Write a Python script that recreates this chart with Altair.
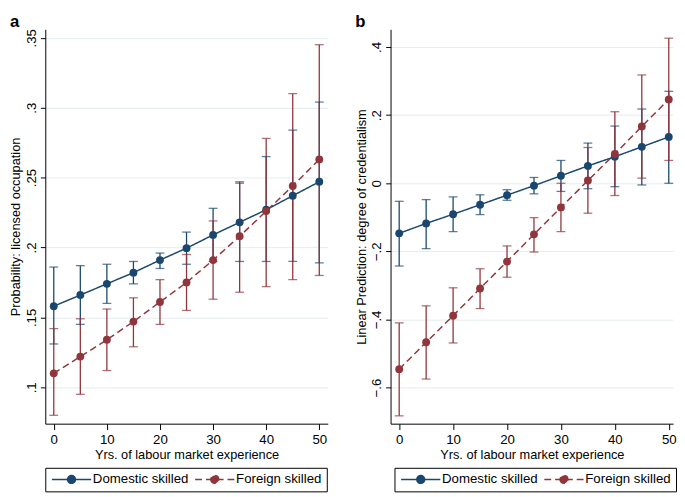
import altair as alt
import pandas as pd

years = [0, 5, 10, 15, 20, 25, 30, 35, 40, 45, 50]
groups = ["Domestic skilled", "Foreign skilled"]
colors = ["#1a476f", "#90353b"]

# Panel a: Probability of licensed occupation
a_dom = [0.158, 0.166, 0.174, 0.182, 0.191, 0.1995, 0.209, 0.218, 0.227, 0.237, 0.247]
a_dom_lo = [0.131, 0.145, 0.160, 0.174, 0.185, 0.188, 0.190, 0.190, 0.190, 0.190, 0.189]
a_dom_hi = [0.186, 0.187, 0.188, 0.190, 0.196, 0.211, 0.228, 0.246, 0.265, 0.284, 0.304]
a_for = [0.110, 0.122, 0.134, 0.147, 0.161, 0.175, 0.191, 0.208, 0.226, 0.244, 0.263]
a_for_lo = [0.080, 0.095, 0.112, 0.129, 0.145, 0.155, 0.163, 0.168, 0.172, 0.177, 0.180]
a_for_hi = [0.142, 0.149, 0.156, 0.164, 0.177, 0.195, 0.219, 0.247, 0.278, 0.310, 0.345]

# Panel b: Linear prediction of degree of credentialism
b_dom = [-0.147, -0.118, -0.091, -0.063, -0.035, -0.007, 0.022, 0.051, 0.078, 0.107, 0.136]
b_dom_lo = [-0.243, -0.192, -0.142, -0.092, -0.050, -0.031, -0.024, -0.016, -0.010, -0.005, 0.000]
b_dom_hi = [-0.053, -0.048, -0.040, -0.034, -0.019, 0.017, 0.067, 0.118, 0.168, 0.218, 0.270]
b_for = [-0.546, -0.467, -0.389, -0.309, -0.230, -0.150, -0.071, 0.008, 0.086, 0.167, 0.246]
b_for_lo = [-0.683, -0.575, -0.469, -0.368, -0.276, -0.202, -0.142, -0.088, -0.036, 0.015, 0.067]
b_for_hi = [-0.410, -0.360, -0.307, -0.251, -0.184, -0.101, 0.000, 0.105, 0.210, 0.318, 0.426]

a_ticks = [0.1, 0.15, 0.2, 0.25, 0.3, 0.35]
b_ticks = [-0.6, -0.4, -0.2, 0, 0.2, 0.4]

FONT = "Liberation Sans"
# legend sample: a line with a dot in its middle (units of 5px)
SYMBOL = "M-1,0L7,0M2.2,0A0.8,0.8,0,1,0,3.8,0A0.8,0.8,0,1,0,2.2,0Z"


def make_df(dom, dom_lo, dom_hi, fr, fr_lo, fr_hi):
    rows = []
    for g, est, lo, hi in [(groups[0], dom, dom_lo, dom_hi), (groups[1], fr, fr_lo, fr_hi)]:
        for i, yr in enumerate(years):
            rows.append({"year": yr, "group": g, "est": est[i], "lo": lo[i], "hi": hi[i]})
    return pd.DataFrame(rows)


LABEL_EXPR = "datum.value == 0 ? '0' : replace(format(datum.value, '~g'), '0.', '.')"


def panel(df, ytitle, domain, ticks, label, legend_x, width, xmax):
    base = alt.Chart(df)
    xscale = alt.Scale(domain=[-1.6, xmax], nice=False, zero=False)
    yscale = alt.Scale(domain=domain, nice=False, zero=False)
    xaxis = alt.Axis(values=years, title="Yrs. of labour market experience", grid=False,
                     labelFontSize=13.5, titleFontSize=13, titleFontWeight="normal",
                     labelPadding=3, titlePadding=3,
                     tickSize=6, domainColor="#000000", tickColor="#000000",
                     labelColor="#000000", titleColor="#000000", labelFont=FONT, titleFont=FONT)
    yaxis = alt.Axis(values=ticks, title=ytitle, grid=True, gridColor="#e3edef", gridWidth=1,
                     labelAngle=270, labelAlign="center", labelBaseline="bottom",
                     labelExpr=LABEL_EXPR, labelFontSize=13.5, titleFontSize=13,
                     titleFontWeight="normal",
                     labelPadding=2, titlePadding=2, tickSize=5,
                     domainColor="#000000", tickColor="#000000",
                     labelColor="#000000", titleColor="#000000", labelFont=FONT, titleFont=FONT)
    leg = alt.Legend(title=None, orient="none", legendX=legend_x, legendY=447,
                     direction="horizontal", symbolType=SYMBOL, symbolSize=100,
                     symbolStrokeWidth=1.5, labelFontSize=13.5, labelFont=FONT,
                     labelColor="#000000", strokeColor="#000000", padding=5,
                     columnPadding=2, labelOffset=30, labelLimit=0, symbolOpacity=1)
    color = alt.Color("group:N", scale=alt.Scale(domain=groups, range=colors), legend=leg)
    dash = alt.StrokeDash("group:N", scale=alt.Scale(domain=groups, range=[[1, 0], [7, 4]]), legend=leg)

    rules = base.mark_rule(strokeWidth=1.3).encode(
        x=alt.X("year:Q", scale=xscale, axis=xaxis),
        y=alt.Y("lo:Q", scale=yscale, axis=yaxis),
        y2="hi:Q",
        color=color,
    )
    cap_lo = base.mark_tick(orient="horizontal", size=9, thickness=1.3).encode(
        x=alt.X("year:Q", scale=xscale), y=alt.Y("lo:Q", scale=yscale), color=color)
    cap_hi = base.mark_tick(orient="horizontal", size=9, thickness=1.3).encode(
        x=alt.X("year:Q", scale=xscale), y=alt.Y("hi:Q", scale=yscale), color=color)
    line = base.mark_line(strokeWidth=1.5).encode(
        x=alt.X("year:Q", scale=xscale), y=alt.Y("est:Q", scale=yscale),
        color=color, strokeDash=dash)
    pts = base.mark_point(filled=True, size=64, opacity=1).encode(
        x=alt.X("year:Q", scale=xscale), y=alt.Y("est:Q", scale=yscale), color=color)
    return alt.layer(rules, cap_lo, cap_hi, line, pts).properties(
        width=width, height=402,
        title=alt.Title(label, anchor="start", frame="bounds", fontSize=17, fontWeight="bold",
                        font=FONT, offset=-2, color="#000000"),
    )


df_a = make_df(a_dom, a_dom_lo, a_dom_hi, a_for, a_for_lo, a_for_hi)
df_b = make_df(b_dom, b_dom_lo, b_dom_hi, b_for, b_for_lo, b_for_hi)

pa = panel(df_a, "Probability: licensed occupation", [0.074, 0.356], a_ticks, "a", 0, 288, 51.6)
pb = panel(df_b, "Linear Prediction: degree of credentialism", [-0.706, 0.452], b_ticks, "b", 4, 288, 50.8)

chart = alt.hconcat(pa, pb, spacing=28).resolve_scale(
    color="independent", strokeDash="independent"
).resolve_legend(
    color="independent", strokeDash="independent"
).configure(
    padding={"left": 2, "top": 0, "right": 0, "bottom": 0}, background="white"
).configure_view(stroke=None)

chart.save("out.html", embed_options={"renderer": "svg", "actions": False})
